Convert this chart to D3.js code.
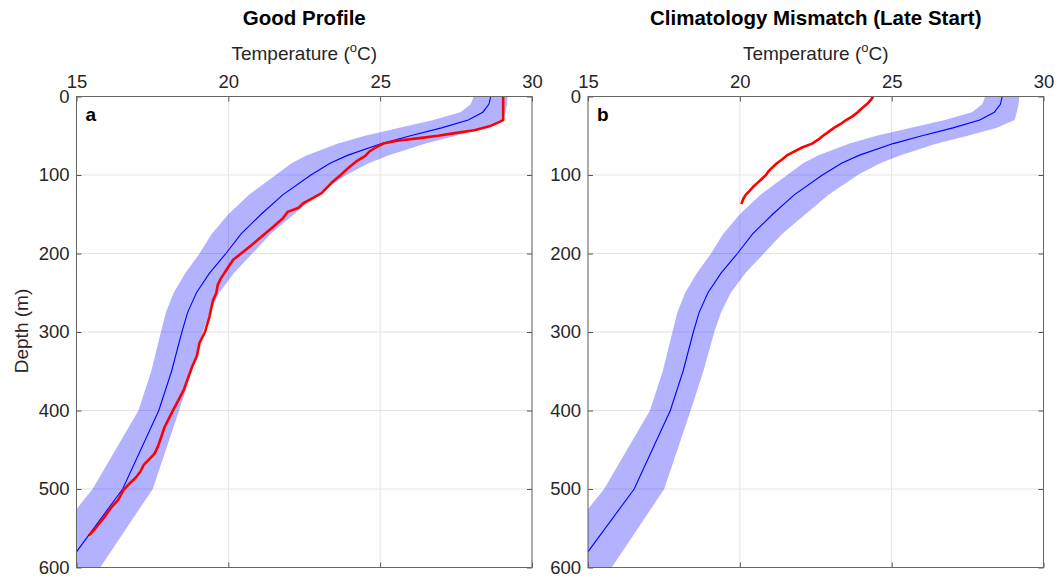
<!DOCTYPE html>
<html>
<head>
<meta charset="utf-8">
<script src="https://cdn.jsdelivr.net/npm/d3@7"></script>
<style>
  body { margin: 0; background: #fff; }
  svg { display: block; font-family: "Liberation Sans", Arial, Helvetica, sans-serif; }
</style>
</head>
<body>
<div id="chart"></div>
<script>
// climatology (mean and std) on depth levels
var climDepth = [0, 10, 20, 30, 40, 50, 60, 75, 85, 100, 125, 150, 175, 200, 225, 250, 275, 300, 350, 400, 500, 600];
var climMean = [28.64, 28.58, 28.38, 27.9, 27.02, 26.0, 25.05, 23.92, 23.35, 22.72, 21.8, 21.08, 20.42, 19.92, 19.38, 18.95, 18.66, 18.47, 18.13, 17.71, 16.52, 14.62];
var climStd = [0.56, 0.6, 0.74, 1.15, 1.42, 1.5, 1.44, 1.35, 1.27, 1.16, 1.12, 1.08, 0.97, 0.87, 0.8, 0.75, 0.72, 0.69, 0.67, 0.67, 0.99, 1.16];

// observed profile a: good profile
var goodDepth = [0, 30, 32, 38, 43, 47, 50, 53, 56, 60, 65, 70, 76, 83, 90, 100, 110, 123, 130, 136, 142, 147, 155, 166, 180, 191, 200, 208, 220, 232, 240, 251, 259, 280, 300, 314, 320, 331, 345, 361, 374, 391, 399, 412, 421, 435, 446, 455, 462, 469, 478, 486, 494, 501, 514, 522, 529, 537, 544, 552, 559];
var goodTemp = [29.05, 29.05, 28.95, 28.6, 28.1, 27.4, 26.9, 26.3, 25.6, 25.1, 24.85, 24.65, 24.5, 24.2, 23.98, 23.7, 23.4, 23.07, 22.75, 22.47, 22.3, 21.95, 21.8, 21.48, 21.05, 20.71, 20.42, 20.16, 19.95, 19.75, 19.65, 19.6, 19.5, 19.38, 19.23, 19.05, 19.02, 18.96, 18.8, 18.65, 18.53, 18.3, 18.19, 18.02, 17.9, 17.78, 17.68, 17.57, 17.4, 17.22, 17.1, 16.94, 16.72, 16.55, 16.37, 16.18, 16.04, 15.9, 15.75, 15.58, 15.41];

// observed profile b: late start
var lateDepth = [0, 5, 10, 15, 20, 25, 30, 35, 40, 45, 50, 55, 60, 65, 70, 75, 80, 85, 90, 95, 100, 105, 110, 115, 120, 125, 130, 137];
var lateTemp = [24.39, 24.3, 24.18, 24.02, 23.88, 23.72, 23.5, 23.32, 23.1, 22.92, 22.74, 22.58, 22.38, 22.05, 21.8, 21.55, 21.4, 21.22, 21.08, 20.95, 20.86, 20.72, 20.58, 20.44, 20.33, 20.2, 20.12, 20.05];

var tempTicks = [15, 20, 25, 30];
var depthTicks = [0, 100, 200, 300, 400, 500, 600];

var titles = ["Good Profile", "Climatology Mismatch (Late Start)"];
var letters = ["a", "b"];

var svg = d3.select("#chart").append("svg")
    .attr("width", 1059)
    .attr("height", 578);

var top0 = 96.5, bottom0 = 567.5;
var textCol = "#262626";

function drawPanel(i, left, right, obsDepth, obsTemp) {
    var x = d3.scaleLinear().domain([15, 30]).range([left, right]);
    var y = d3.scaleLinear().domain([0, 600]).range([top0, bottom0]);

    var g = svg.append("g");

    g.append("clipPath").attr("id", "clip" + i)
      .append("rect")
        .attr("x", left).attr("y", top0)
        .attr("width", right - left).attr("height", bottom0 - top0);

    // grid
    g.selectAll(".gx").data(tempTicks).enter().append("line")
        .attr("x1", function(d) { return x(d); })
        .attr("x2", function(d) { return x(d); })
        .attr("y1", top0).attr("y2", bottom0)
        .attr("stroke", "#e3e3e3").attr("stroke-width", 1);
    g.selectAll(".gy").data(depthTicks).enter().append("line")
        .attr("y1", function(d) { return y(d); })
        .attr("y2", function(d) { return y(d); })
        .attr("x1", left).attr("x2", right)
        .attr("stroke", "#e3e3e3").attr("stroke-width", 1);

    var clim = climDepth.map(function(d, k) {
        return {depth: d, mean: climMean[k], std: climStd[k]};
    });

    var plot = g.append("g").attr("clip-path", "url(#clip" + i + ")");

    // mean +- std band
    plot.append("path")
        .datum(clim)
        .attr("d", d3.area()
            .y(function(d) { return y(d.depth); })
            .x0(function(d) { return x(d.mean - d.std); })
            .x1(function(d) { return x(d.mean + d.std); }))
        .attr("fill", "#0000ff")
        .attr("fill-opacity", 0.3);

    // mean
    plot.append("path")
        .datum(clim)
        .attr("d", d3.line()
            .x(function(d) { return x(d.mean); })
            .y(function(d) { return y(d.depth); }))
        .attr("fill", "none")
        .attr("stroke", "#0000ff")
        .attr("stroke-width", 1.1);

    // observed profile
    var obs = obsDepth.map(function(d, k) { return {depth: d, temp: obsTemp[k]}; });
    plot.append("path")
        .datum(obs)
        .attr("d", d3.line()
            .x(function(d) { return x(d.temp); })
            .y(function(d) { return y(d.depth); }))
        .attr("fill", "none")
        .attr("stroke", "#ff0000")
        .attr("stroke-width", 2.6)
        .attr("stroke-linejoin", "round");

    // axes (ticks point inward, mirrored on all sides)
    g.append("g").attr("transform", "translate(0," + top0 + ")")
        .call(d3.axisTop(x).tickValues(tempTicks).tickSize(-5).tickPadding(9));
    g.append("g").attr("transform", "translate(" + left + ",0)")
        .call(d3.axisLeft(y).tickValues(depthTicks).tickSize(-5).tickPadding(7));
    g.append("g").attr("transform", "translate(0," + bottom0 + ")")
        .call(d3.axisBottom(x).tickValues(tempTicks).tickSize(-5).tickFormat(""));
    g.append("g").attr("transform", "translate(" + right + ",0)")
        .call(d3.axisRight(y).tickValues(depthTicks).tickSize(-5).tickFormat(""));

    g.selectAll(".domain").remove();
    g.selectAll(".tick line").attr("stroke", "#555");
    g.selectAll(".tick text")
        .attr("fill", textCol)
        .style("font-size", "18.5px");

    g.append("rect")
        .attr("x", left).attr("y", top0)
        .attr("width", right - left).attr("height", bottom0 - top0)
        .attr("fill", "none")
        .attr("stroke", "#666")
        .attr("stroke-width", 1);

    // panel letter
    g.append("text")
        .attr("x", left + 9).attr("y", top0 + 24)
        .attr("font-weight", "bold")
        .attr("font-size", "19px")
        .attr("fill", "#000")
        .text(letters[i]);

    // x label
    var lab = g.append("text")
        .attr("x", (left + right) / 2).attr("y", 60)
        .attr("text-anchor", "middle")
        .attr("font-size", "19px")
        .attr("fill", textCol);
    lab.append("tspan").text("Temperature (");
    lab.append("tspan").attr("font-size", "13px").attr("dy", -8).text("o");
    lab.append("tspan").attr("dy", 8).text("C)");

    // title
    g.append("text")
        .attr("x", (left + right) / 2).attr("y", 25)
        .attr("text-anchor", "middle")
        .attr("font-weight", "bold")
        .attr("font-size", "20.5px")
        .attr("fill", "#000")
        .text(titles[i]);
}

drawPanel(0, 76.5, 532, goodDepth, goodTemp);
drawPanel(1, 588, 1043.5, lateDepth, lateTemp);

// y label
svg.append("text")
    .attr("transform", "translate(28,331) rotate(-90)")
    .attr("text-anchor", "middle")
    .attr("font-size", "19px")
    .attr("fill", textCol)
    .text("Depth (m)");
</script>
</body>
</html>
